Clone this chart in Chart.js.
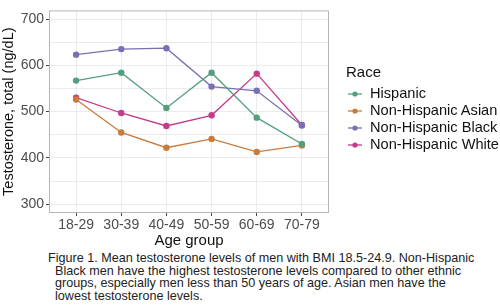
<!DOCTYPE html>
<html>
<head>
<meta charset="utf-8">
<script src="https://cdn.jsdelivr.net/npm/chart.js@4/dist/chart.umd.min.js"></script>
<style>
  body { margin: 0; background: #fff; font-family: "Liberation Sans", Arial, sans-serif; }
  #wrap { position: relative; width: 500px; height: 306px; }
  #c { position: absolute; left: 0; top: 0; }
  #legend { position: absolute; left: 346px; top: 63px; color: #111; }
  #legend .title { font-size: 15px; margin-bottom: 5px; }
  #legend .item { font-size: 14.6px; height: 17px; line-height: 17px; white-space: nowrap; }
  #legend svg { vertical-align: middle; margin-right: 7px; margin-left: 1px; }
  #caption { position: absolute; left: 48px; top: 252px; font-size: 12.6px; line-height: 12.7px; color: #222; }
  #caption div { white-space: nowrap; }
</style>
</head>
<body>
<div id="wrap">
  <canvas id="c" width="500" height="250"></canvas>
  <div id="legend"></div>
  <div id="caption">
    <div>Figure 1. Mean testosterone levels of men with BMI 18.5-24.9. Non-Hispanic</div>
    <div style="padding-left:7px">Black men have the highest testosterone levels compared to other ethnic</div>
    <div style="padding-left:7px">groups, especially men less than 50 years of age. Asian men have the</div>
    <div style="padding-left:7px">lowest testosterone levels.</div>
  </div>
</div>
<script>
var ageGroups = ['18-29', '30-39', '40-49', '50-59', '60-69', '70-79'];
var hispanic = [567, 584, 508, 584, 487, 430];
var asian = [526, 455, 422, 441, 413, 427];
var black = [623, 635, 637, 554, 545, 470];
var white = [530, 497, 469, 492, 582, 471];
var yTicks = [300, 400, 500, 600, 700];

var series = [
  { name: 'Hispanic', values: hispanic, color: '#529f7e' },
  { name: 'Non-Hispanic Asian', values: asian, color: '#c97b3c' },
  { name: 'Non-Hispanic Black', values: black, color: '#7771b4' },
  { name: 'Non-Hispanic White', values: white, color: '#c53b8b' }
];

// full box around the panel, like ggplot theme_bw
var panelBorder = {
  id: 'panelBorder',
  afterDraw: function(chart) {
    var a = chart.chartArea, c = chart.ctx;
    c.save();
    c.strokeStyle = '#b5b5b5';
    c.lineWidth = 1;
    c.strokeRect(a.left + 0.5, a.top + 0.5, a.right - a.left - 1, a.bottom - a.top - 1);
    c.restore();
  }
};

var gridColor = '#ebebeb';

new Chart(document.getElementById('c'), {
  type: 'line',
  data: {
    datasets: series.map(function(s) {
      return {
        label: s.name,
        data: s.values.map(function(v, i) { return { x: i, y: v }; }),
        borderColor: s.color,
        backgroundColor: s.color,
        borderWidth: 1.3,
        pointRadius: 3.2,
        pointBorderWidth: 0,
        tension: 0
      };
    })
  },
  options: {
    responsive: false,
    animation: false,
    layout: { padding: { left: 0, right: 171, top: 2, bottom: 0 } },
    plugins: { legend: { display: false }, tooltip: { enabled: false } },
    scales: {
      x: {
        type: 'linear',
        min: -0.6,
        max: 5.6,
        afterBuildTicks: function(scale) {
          scale.ticks = ageGroups.map(function(_, i) { return { value: i }; });
        },
        afterFit: function(scale) { scale.height = 37; },
        ticks: {
          autoSkip: false,
          maxRotation: 0,
          color: '#4d4d4d',
          font: { family: 'Liberation Sans', size: 14 },
          padding: 1,
          callback: function(v) { return ageGroups[v]; }
        },
        grid: { color: gridColor, tickColor: '#444', tickLength: 3 },
        border: { display: false },
        title: {
          display: true,
          text: 'Age group',
          color: '#111',
          font: { family: 'Liberation Sans', size: 15 },
          padding: { top: 0, bottom: 0 }
        }
      },
      y: {
        min: 281,
        max: 718.6,
        afterBuildTicks: function(scale) {
          var t = [];
          for (var v = 300; v <= 700; v += 50) t.push({ value: v });
          scale.ticks = t;
        },
        afterFit: function(scale) { scale.width = 49; },
        ticks: {
          color: '#4d4d4d',
          font: { family: 'Liberation Sans', size: 14 },
          padding: 2,
          callback: function(v) { return yTicks.indexOf(v) >= 0 ? v : ''; }
        },
        grid: {
          color: gridColor,
          tickLength: 3,
          tickColor: function(ctx) { return yTicks.indexOf(ctx.tick.value) >= 0 ? '#444' : 'rgba(0,0,0,0)'; }
        },
        border: { display: false },
        title: {
          display: true,
          text: 'Testosterone, total (ng/dL)',
          color: '#111',
          font: { family: 'Liberation Sans', size: 14.5 },
          padding: { top: 0, bottom: 1 }
        }
      }
    }
  },
  plugins: [panelBorder]
});

// legend drawn as html, built from the series list
var lg = document.getElementById('legend');
var html = '<div class="title">Race</div>';
series.forEach(function(s) {
  html += '<div class="item"><svg width="16" height="8"><line x1="1" y1="4" x2="15" y2="4" stroke="' + s.color +
    '" stroke-width="1.3"/><circle cx="8" cy="4" r="2.6" fill="' + s.color + '"/></svg>' + s.name + '</div>';
});
lg.innerHTML = html;
</script>
</body>
</html>
